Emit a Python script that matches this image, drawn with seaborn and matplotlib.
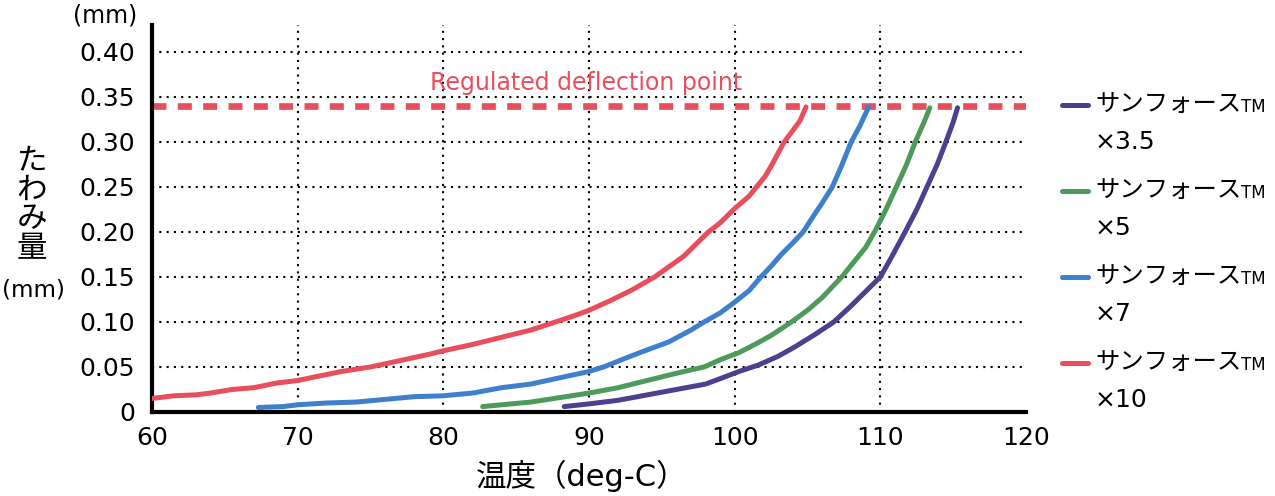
# deflection_vs_temperature.py

import pandas as pd
import matplotlib
matplotlib.use("Agg")
import matplotlib.pyplot as plt
from matplotlib.lines import Line2D
import seaborn as sns

# Curve data (temperature deg-C, deflection mm)
temp_35 = [88.3, 90, 92, 94, 96, 98, 99, 100.3, 101.6, 103, 104.1, 105.5, 106.8, 108, 109,
           110, 110.7, 111.7, 112.5, 113.2, 113.9, 114.5, 115, 115.3]
defl_35 = [0.006, 0.009, 0.013, 0.019, 0.025, 0.031, 0.037, 0.045, 0.052, 0.062, 0.072, 0.086,
           0.100, 0.118, 0.134, 0.150, 0.170, 0.200, 0.225, 0.250, 0.275, 0.300, 0.322, 0.338]

temp_5 = [82.7, 84, 86, 88, 90, 92, 94, 96, 97.9, 99, 100.3, 101.5, 102.5, 103.9, 105, 106,
          107.35, 108, 109, 109.6, 110.3, 111.1, 111.8, 112.4, 113, 113.4]
defl_5 = [0.006, 0.008, 0.011, 0.016, 0.021, 0.027, 0.035, 0.043, 0.050, 0.058, 0.066, 0.076,
          0.085, 0.100, 0.113, 0.127, 0.150, 0.163, 0.183, 0.200, 0.222, 0.250, 0.275, 0.300,
          0.322, 0.338]

temp_7 = [67.3, 69, 70, 72, 74, 76, 78, 80, 82, 84, 86, 88, 90, 91, 92.7, 94, 95.5, 97, 97.9,
          99, 100, 101, 101.8, 102.5, 103.2, 104, 104.7, 105.5, 106, 106.7, 107.3, 108, 108.6, 109.2]
defl_7 = [0.005, 0.006, 0.008, 0.010, 0.011, 0.014, 0.017, 0.018, 0.021, 0.027, 0.031, 0.038,
          0.045, 0.050, 0.061, 0.069, 0.078, 0.091, 0.100, 0.110, 0.122, 0.135, 0.150, 0.162,
          0.175, 0.188, 0.200, 0.220, 0.232, 0.250, 0.272, 0.300, 0.318, 0.339]

temp_10 = [60, 61.5, 63, 64, 65.5, 67, 68.5, 70, 71.5, 73, 75, 77, 79, 80, 82, 84, 86, 87.7, 89,
           90, 91.5, 93, 94.5, 96.5, 98.2, 99, 100, 101, 101.5, 102.1, 102.6, 103.4, 104, 104.5, 104.9]
defl_10 = [0.015, 0.018, 0.019, 0.021, 0.025, 0.027, 0.032, 0.035, 0.040, 0.045, 0.050, 0.057,
           0.064, 0.068, 0.075, 0.083, 0.091, 0.100, 0.107, 0.113, 0.124, 0.136, 0.150, 0.173,
           0.200, 0.210, 0.226, 0.240, 0.250, 0.262, 0.276, 0.300, 0.313, 0.324, 0.339]

grades = ["×3.5", "×5", "×7", "×10"]
colors = ["#4F3F8F", "#4E9A5A", "#3F80CC", "#E94E5D"]
limit_defl = 0.34

x_ticks = [60, 70, 80, 90, 100, 110, 120]
y_ticks = [0, 0.05, 0.10, 0.15, 0.20, 0.25, 0.30, 0.35, 0.40]
y_tick_labels = ["0", "0.05", "0.10", "0.15", "0.20", "0.25", "0.30", "0.35", "0.40"]

# Long-format table for seaborn
frames = []
for g, t, d in zip(grades, [temp_35, temp_5, temp_7, temp_10], [defl_35, defl_5, defl_7, defl_10]):
    frames.append(pd.DataFrame({"temp": t, "defl": d, "grade": g}))
df = pd.concat(frames, ignore_index=True)

sns.set_theme(style="white")
plt.rcParams['font.family'] = ['DejaVu Sans', 'Noto Sans CJK JP']
plt.rcParams['text.color'] = 'black'
plt.rcParams['xtick.color'] = 'black'
plt.rcParams['ytick.color'] = 'black'

fig = plt.figure(figsize=(12.75, 4.96), dpi=100)
ax = fig.add_axes([0.1192, 0.1694, 0.6855, 0.7802])

# Dotted grid
grid_style = dict(color="black", linestyle=(0, (1, 2.5)), linewidth=1.5, zorder=1)
for y in y_ticks[1:]:
    ax.axhline(y, **grid_style)
for x in x_ticks[1:-1]:
    ax.axvline(x, **grid_style)

# Regulated deflection line
ax.axhline(limit_defl, color=colors[3], linestyle=(0, (2.1, 1.7)), linewidth=4.8, zorder=2)
ax.text(79.1, 0.366, "Regulated deflection point", color=colors[3], fontsize=17, va="center")

sns.lineplot(data=df, x="temp", y="defl", hue="grade", hue_order=grades,
             palette=dict(zip(grades, colors)), sort=False, estimator=None,
             linewidth=3.6, legend=False, ax=ax, zorder=3)

ax.set_xlim(60, 120)
ax.set_ylim(0, 0.43)
ax.set_xticks(x_ticks)
ax.set_yticks(y_ticks)
ax.set_yticklabels(y_tick_labels)
ax.tick_params(axis="both", length=0, labelsize=18, colors="black")
ax.tick_params(axis="y", pad=12)
ax.tick_params(axis="x", pad=10)
ax.set_xlabel("")
ax.set_ylabel("")
for s in ["top", "right"]:
    ax.spines[s].set_visible(False)
for s in ["left", "bottom"]:
    ax.spines[s].set_color("black")
    ax.spines[s].set_linewidth(3)

W, H = 1275, 496

# Axis titles
fig.text(582 / W, 1 - 476 / H, "温度（deg-C）", fontsize=22, ha="center", va="center")
for ch, yp in zip("たわみ量", [161, 190, 219, 249]):
    fig.text(32 / W, 1 - yp / H, ch, fontsize=22, ha="center", va="center")
fig.text(33 / W, 1 - 290 / H, "(mm)", fontsize=16.5, ha="center", va="center")
fig.text(105 / W, 1 - 15 / H, "(mm)", fontsize=17, ha="center", va="center")

# Legend drawn by hand (small "TM" after the product name)
renderer = fig.canvas.get_renderer()
probe = fig.text(0, 0, "サンフォース", fontsize=20)
name_size = 20 * 146 / probe.get_window_extent(renderer).width
probe.remove()
for i, (g, c) in enumerate(zip(grades, colors)):
    yp = 105 + i * 86
    fig.add_artist(Line2D([1062 / W, 1088 / W], [1 - yp / H, 1 - yp / H], color=c,
                          linewidth=3.6, transform=fig.transFigure))
    name = fig.text(1095 / W, 1 - yp / H, "サンフォース", fontsize=name_size, va="center")
    bb = name.get_window_extent(renderer)
    fig.text(bb.x1 / W, 1 - (yp + 2) / H, "TM", fontsize=12, va="center")
    fig.text(1095 / W, 1 - (yp + 37) / H, g, fontsize=18, va="center")

fig.savefig("out.png", dpi=100)
